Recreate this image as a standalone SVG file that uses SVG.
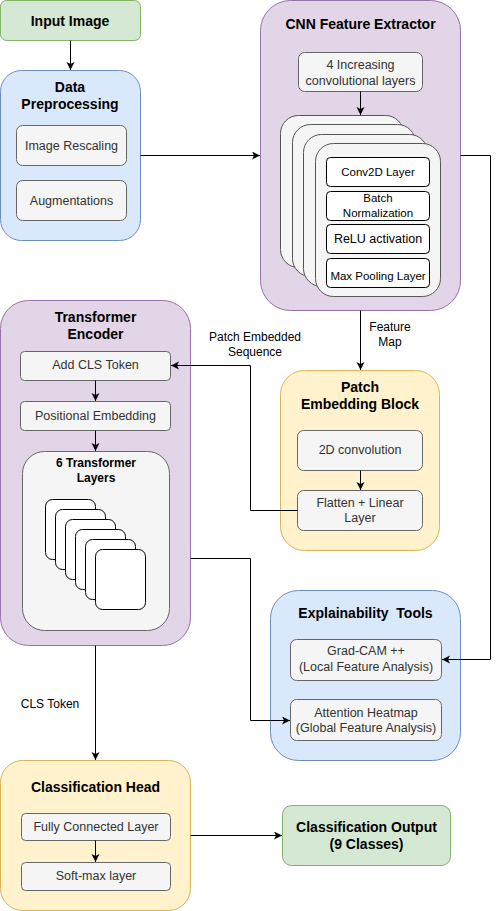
<svg xmlns="http://www.w3.org/2000/svg" width="499" height="911" viewBox="0 0 499 911">
<defs>
<marker id="arr" markerWidth="10" markerHeight="10" refX="8" refY="4" orient="auto" markerUnits="userSpaceOnUse">
<path d="M0,0 L8,4 L0,8 L2,4 z" fill="#000"/>
</marker>
<style>
text{font-family:"Liberation Sans",Arial,sans-serif;text-anchor:middle}
.t{font-size:14px;font-weight:bold;fill:#000}
.s{font-size:12.5px;fill:#333}
.l{font-size:12px;fill:#000}
.c{font-size:11.5px;fill:#000}
.sub{fill:#f5f5f5;stroke:#666;stroke-width:1}
.green{fill:#d5e8d4;stroke:#82b366;stroke-width:1}
.blue{fill:#dae8fc;stroke:#6c8ebf;stroke-width:1}
.purple{fill:#e1d5e7;stroke:#9673a6;stroke-width:1}
.yellow{fill:#fff2cc;stroke:#d6b656;stroke-width:1}
.card{fill:#f5f5f5;stroke:#555;stroke-width:1}
.wcard{fill:#fff;stroke:#000;stroke-width:1}
.e{fill:none;stroke:#000;stroke-width:1;marker-end:url(#arr)}
</style>
</defs>

<g id="input-image">
<rect class="green" x="0.5" y="0.5" width="140" height="40" rx="6"/>
<text class="t" x="70" y="25.5">Input Image</text>
</g>

<g id="data-preprocessing">
<rect class="blue" x="0.5" y="70.5" width="140" height="170" rx="21"/>
<text class="t" x="70" y="92">Data</text>
<text class="t" x="70" y="109">Preprocessing</text>
<rect class="sub" x="16.5" y="125.5" width="110" height="40" rx="6"/>
<text class="s" x="71.5" y="149.5">Image Rescaling</text>
<rect class="sub" x="16.5" y="180.5" width="110" height="40" rx="6"/>
<text class="s" x="71.5" y="204.5">Augmentations</text>
</g>

<g id="cnn-feature-extractor">
<rect class="purple" x="260.5" y="0.5" width="200" height="310" rx="30"/>
<text class="t" x="360.5" y="29">CNN Feature Extractor</text>
<rect class="sub" x="298.5" y="52.5" width="124" height="39" rx="6"/>
<text class="s" x="360.5" y="68.5">4 Increasing</text>
<text class="s" x="360.5" y="84.5">convolutional layers</text>
<rect class="card" x="280.5" y="115.5" width="123" height="152" rx="18"/>
<rect class="card" x="292.5" y="124.5" width="123" height="152" rx="18"/>
<rect class="card" x="303.5" y="134.5" width="124" height="152" rx="18"/>
<rect class="card" x="315.5" y="143.5" width="125" height="153" rx="18"/>
<rect class="wcard" x="326.5" y="157.5" width="103" height="29" rx="4"/>
<text class="c" x="378" y="176">Conv2D Layer</text>
<rect class="wcard" x="326.5" y="191.5" width="103" height="29" rx="4"/>
<text class="c" x="378" y="202">Batch</text>
<text class="c" x="378" y="216.5">Normalization</text>
<rect class="wcard" x="326.5" y="224.5" width="103" height="29" rx="4"/>
<text class="l" x="378" y="243" style="font-size:12.5px">ReLU activation</text>
<rect class="wcard" x="326.5" y="258.5" width="103" height="29" rx="4"/>
<text class="c" x="378" y="280">Max Pooling Layer</text>
</g>

<g id="transformer-encoder">
<rect class="purple" x="0.5" y="300.5" width="190" height="345" rx="28"/>
<text class="t" x="95.5" y="322">Transformer</text>
<text class="t" x="95.5" y="339">Encoder</text>
<rect class="sub" x="20.5" y="351.5" width="150" height="29" rx="4"/>
<text class="s" x="95.5" y="368.5">Add CLS Token</text>
<rect class="sub" x="20.5" y="401.5" width="150" height="29" rx="4"/>
<text class="s" x="95.5" y="419.5">Positional Embedding</text>
<rect class="sub" x="22.5" y="451.5" width="147" height="179" rx="22"/>
<text class="l" x="96" y="467" style="font-weight:bold">6 Transformer</text>
<text class="l" x="96" y="482" style="font-weight:bold">Layers</text>
<rect class="wcard" x="45.5" y="499.5" width="50" height="60" rx="7"/>
<rect class="wcard" x="55.5" y="509.5" width="50" height="60" rx="7"/>
<rect class="wcard" x="65.5" y="519.5" width="50" height="60" rx="7"/>
<rect class="wcard" x="75.5" y="529.5" width="50" height="60" rx="7"/>
<rect class="wcard" x="85.5" y="539.5" width="50" height="60" rx="7"/>
<rect class="wcard" x="95.5" y="549.5" width="50" height="60" rx="7"/>
</g>

<g id="patch-embedding-block">
<rect class="yellow" x="280.5" y="370.5" width="159" height="180" rx="24"/>
<text class="t" x="360" y="392">Patch</text>
<text class="t" x="360" y="409">Embedding Block</text>
<rect class="sub" x="297.5" y="430.5" width="125" height="40" rx="6"/>
<text class="s" x="360" y="453.5">2D convolution</text>
<rect class="sub" x="297.5" y="490.5" width="125" height="40" rx="6"/>
<text class="s" x="360" y="506.5">Flatten + Linear</text>
<text class="s" x="360" y="521.5">Layer</text>
</g>

<g id="explainability-tools">
<rect class="blue" x="270.5" y="590.5" width="190" height="170" rx="28"/>
<text class="t" x="365.5" y="618">Explainability&#160; Tools</text>
<rect class="sub" x="290.5" y="639.5" width="151" height="41" rx="6"/>
<text class="s" x="366" y="655">Grad-CAM ++</text>
<text class="s" x="366" y="671">(Local Feature Analysis)</text>
<rect class="sub" x="290.5" y="699.5" width="151" height="41" rx="6"/>
<text class="s" x="366" y="716.5">Attention Heatmap</text>
<text class="s" x="366" y="731.5">(Global Feature Analysis)</text>
</g>

<g id="classification-head">
<rect class="yellow" x="0.5" y="760.5" width="190" height="150" rx="22"/>
<text class="t" x="95.5" y="792">Classification Head</text>
<rect class="sub" x="21.5" y="813.5" width="149" height="27" rx="4"/>
<text class="s" x="96" y="831">Fully Connected Layer</text>
<rect class="sub" x="21.5" y="862.5" width="149" height="28" rx="4"/>
<text class="s" x="96" y="880">Soft-max layer</text>
</g>

<g id="classification-output">
<rect class="green" x="282.5" y="805.5" width="168" height="60" rx="9"/>
<text class="t" x="366.5" y="832">Classification Output</text>
<text class="t" x="366.5" y="849">(9 Classes)</text>
</g>

<g id="connectors">
<path class="e" d="M70.5,40.5 V70"/>
<path class="e" d="M140.5,155.5 H260"/>
<path class="e" d="M360.5,91.5 V115"/>
<path class="e" d="M460.5,155.5 H490.5 V659.5 H442"/>
<path class="e" d="M360.5,310.5 V370"/>
<path class="e" d="M297.5,510.5 H250.5 V365.5 H171"/>
<path class="e" d="M95.5,380.5 V401"/>
<path class="e" d="M95.5,430.5 V451"/>
<path class="e" d="M360.5,470.5 V490"/>
<path class="e" d="M190.5,558.5 H250.5 V720.5 H290"/>
<path class="e" d="M95.5,645.5 V760"/>
<path class="e" d="M95.5,840.5 V862"/>
<path class="e" d="M190.5,835.5 H282"/>
<text class="l" x="255" y="341">Patch Embedded</text>
<text class="l" x="255" y="356">Sequence</text>
<text class="l" x="390" y="331">Feature</text>
<text class="l" x="390" y="346">Map</text>
<text class="l" x="50" y="708">CLS Token</text>
</g>
</svg>
